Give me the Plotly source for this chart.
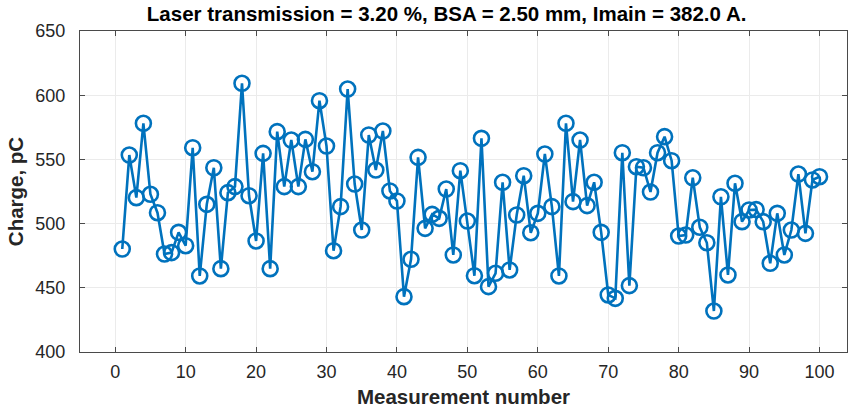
import plotly.graph_objects as go

# Measurement index and measured bunch charge (pC)
measurement = list(range(1, 101))
charge_pc = [
    480.2, 553.4, 520.2, 578.1, 522.8, 508.5, 476.3, 477.4, 493.2, 482.8,
    559.1, 459.2, 515.0, 543.5, 464.9, 524.1, 528.8, 609.3, 521.7, 486.5,
    554.7, 464.9, 571.6, 528.8, 565.1, 528.8, 565.6, 540.4, 595.7, 560.4,
    478.9, 513.2, 604.8, 530.8, 495.0, 569.0, 541.7, 572.1, 525.4, 517.6,
    443.1, 472.2, 551.6, 496.3, 507.2, 504.1, 526.9, 475.6, 541.2, 502.0,
    459.4, 566.4, 450.9, 461.3, 532.2, 463.9, 506.7, 537.3, 492.9, 508.0,
    554.2, 513.2, 459.2, 578.1, 517.1, 565.1, 514.0, 532.2, 493.2, 444.4,
    441.8, 555.2, 451.7, 544.3, 543.5, 524.6, 555.2, 567.7, 549.0, 490.3,
    491.1, 535.7, 497.1, 485.1, 431.9, 520.9, 460.0, 531.4, 501.5, 510.6,
    510.9, 501.5, 469.1, 508.0, 475.6, 495.0, 538.6, 492.4, 534.0, 536.5,
]
x_ticks = [0, 10, 20, 30, 40, 50, 60, 70, 80, 90, 100]
y_ticks = [400, 450, 500, 550, 600, 650]

title_text = "Laser transmission = 3.20 %, BSA = 2.50 mm, Imain = 382.0 A."

LINE_BLUE = "#0072BD"
AXIS_GREY = "#4a4a4a"
TEXT_GREY = "#262626"
GRID_GREY = "#ebebeb"
FONT = "Liberation Sans, Arial, Helvetica, sans-serif"

fig = go.Figure(
    go.Scatter(
        x=measurement,
        y=charge_pc,
        mode="lines+markers",
        line=dict(color=LINE_BLUE, width=2.6),
        marker=dict(symbol="circle-open", size=15, color=LINE_BLUE,
                    line=dict(width=2.6, color=LINE_BLUE)),
        showlegend=False,
    )
)

axis_common = dict(
    showline=True,
    linecolor=AXIS_GREY,
    linewidth=1,
    mirror="ticks",
    ticks="inside",
    ticklen=5,
    tickcolor=AXIS_GREY,
    showgrid=True,
    gridcolor=GRID_GREY,
    gridwidth=1,
    zeroline=False,
    tickfont=dict(family=FONT, size=18, color=TEXT_GREY),
)

fig.update_layout(
    width=848,
    height=409,
    margin=dict(l=80, r=1, t=31, b=57),
    paper_bgcolor="white",
    plot_bgcolor="white",
    title=dict(
        text=f"<b>{title_text}</b>",
        font=dict(family=FONT, size=20.5, color="black"),
        x=0.478,
        xref="paper",
        xanchor="center",
        y=1 - 14 / 409,
        yref="container",
        yanchor="middle",
    ),
    xaxis=dict(
        axis_common,
        range=[-5, 103.9],
        tickvals=x_ticks,
        ticktext=[str(v) for v in x_ticks],
        ticklabelstandoff=3,
        title=dict(text="<b>Measurement number</b>",
                   font=dict(family=FONT, size=20.5, color=TEXT_GREY),
                   standoff=9),
    ),
    yaxis=dict(
        axis_common,
        range=[400, 650],
        tickvals=y_ticks,
        ticktext=[str(v) for v in y_ticks],
        ticklabelstandoff=10,
        title=dict(text="<b>Charge, pC</b>",
                   font=dict(family=FONT, size=20.5, color=TEXT_GREY),
                   standoff=6),
    ),
)

fig.write_html("out.html")
